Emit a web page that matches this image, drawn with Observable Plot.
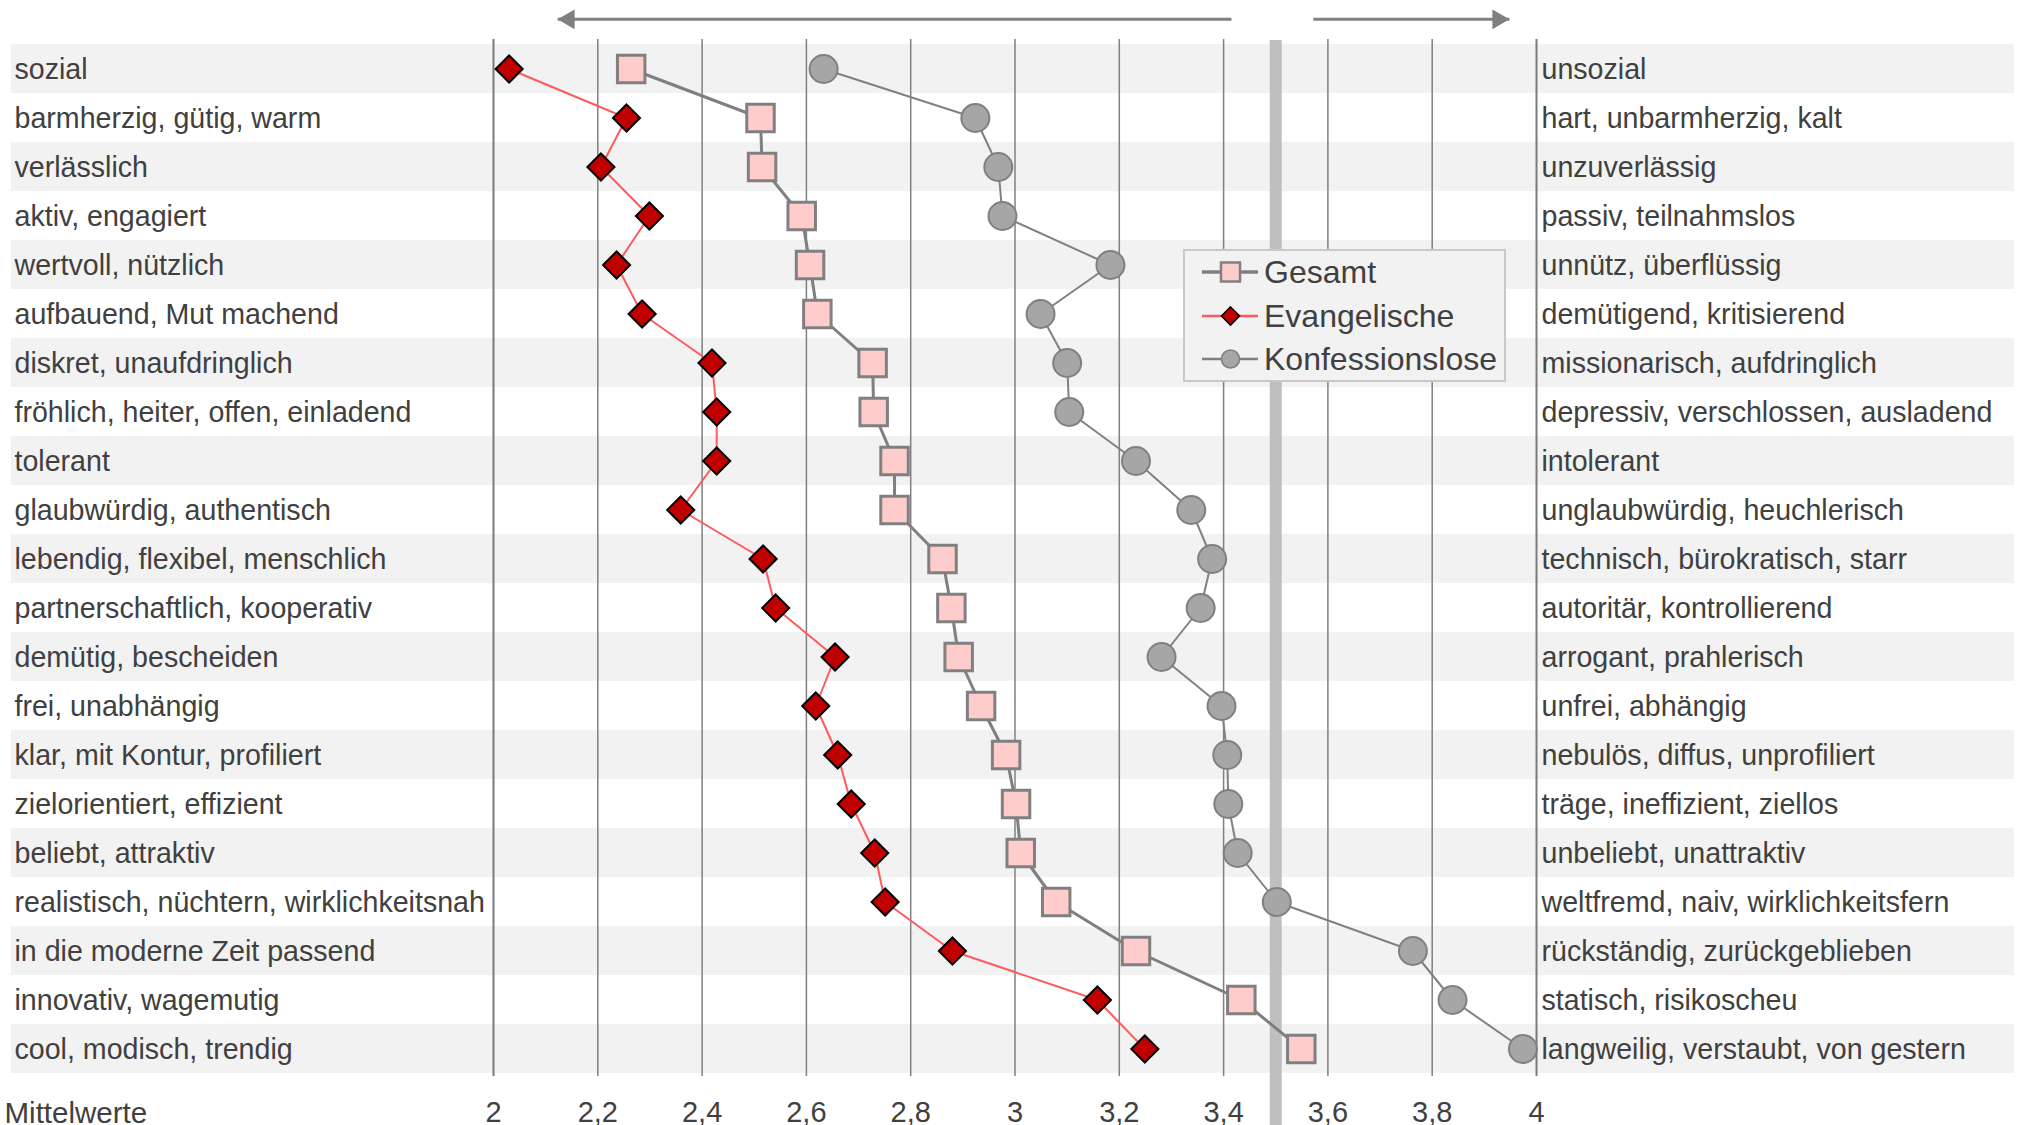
<!DOCTYPE html>
<html>
<head>
<meta charset="utf-8">
<script src="https://cdn.jsdelivr.net/npm/d3@7"></script>
<script src="https://cdn.jsdelivr.net/npm/@observablehq/plot@0.6"></script>
<style>
  html, body { margin: 0; padding: 0; background: #ffffff; overflow: hidden; }
  #wrap { position: relative; width: 2018px; height: 1125px; font-family: "Liberation Sans", Arial, sans-serif; }
  #wrap svg.plot-root { display: block; }
  #legend { position: absolute; box-sizing: border-box; background: #f2f2f2; border: 2px solid #c8c8c8; }
  #legend .item { position: absolute; height: 34px; display: flex; align-items: center; }
  #legend .item span { font-size: 32px; color: #404040; margin-left: 4px; line-height: 34px; white-space: nowrap; }
</style>
</head>
<body>
<div id="wrap"></div>
<script>
// ---------- data ----------
const leftLabels = [
  "sozial", "barmherzig, gütig, warm", "verlässlich", "aktiv, engagiert",
  "wertvoll, nützlich", "aufbauend, Mut machend", "diskret, unaufdringlich",
  "fröhlich, heiter, offen, einladend", "tolerant", "glaubwürdig, authentisch",
  "lebendig, flexibel, menschlich", "partnerschaftlich, kooperativ",
  "demütig, bescheiden", "frei, unabhängig", "klar, mit Kontur, profiliert",
  "zielorientiert, effizient", "beliebt, attraktiv",
  "realistisch, nüchtern, wirklichkeitsnah", "in die moderne Zeit passend",
  "innovativ, wagemutig", "cool, modisch, trendig"
];
const rightLabels = [
  "unsozial", "hart, unbarmherzig, kalt", "unzuverlässig", "passiv, teilnahmslos",
  "unnütz, überflüssig", "demütigend, kritisierend", "missionarisch, aufdringlich",
  "depressiv, verschlossen, ausladend", "intolerant", "unglaubwürdig, heuchlerisch",
  "technisch, bürokratisch, starr", "autoritär, kontrollierend",
  "arrogant, prahlerisch", "unfrei, abhängig", "nebulös, diffus, unprofiliert",
  "träge, ineffizient, ziellos", "unbeliebt, unattraktiv",
  "weltfremd, naiv, wirklichkeitsfern", "rückständig, zurückgeblieben",
  "statisch, risikoscheu", "langweilig, verstaubt, von gestern"
];
const gesamt = [2.264, 2.512, 2.515, 2.591, 2.607, 2.621, 2.727, 2.729, 2.769, 2.769, 2.861,
                2.878, 2.892, 2.935, 2.983, 3.002, 3.011, 3.079, 3.232, 3.434, 3.549];
const evangelische = [2.030, 2.255, 2.206, 2.299, 2.236, 2.285, 2.419, 2.428, 2.428, 2.359, 2.517,
                      2.541, 2.655, 2.618, 2.660, 2.686, 2.731, 2.751, 2.880, 3.158, 3.249];
const konfessionslose = [2.633, 2.924, 2.968, 2.976, 3.183, 3.049, 3.100, 3.104, 3.232, 3.338, 3.378,
                         3.356, 3.281, 3.396, 3.407, 3.409, 3.427, 3.502, 3.763, 3.839, 3.974];
const tickValues = [2, 2.2, 2.4, 2.6, 2.8, 3, 3.2, 3.4, 3.6, 3.8, 4];
const scaleMid = 3.5;
const axisTitle = "Mittelwerte";
const seriesNames = ["Gesamt", "Evangelische", "Konfessionslose"];
const poleArrows = [{from: 3.415, to: 2.123}, {from: 3.572, to: 3.948}];

// ---------- layout / style ----------
const W = 2018, H = 1125;
const mL = 493, mR = 482, mT = 40, mB = 49;
const textColor = "#404040";
const fontFamily = '"Liberation Sans", Arial, sans-serif';
const xMin = tickValues[0], xMax = tickValues[tickValues.length - 1];
const rowH = (H - mT - mB) / leftLabels.length;
const arrowDy = -(rowH / 2 + (mT - 15));
const fmt = d => String(d).replace(".", ",");

const rows = leftLabels.map((l, i) => ({
  left: l, right: rightLabels[i],
  gesamt: gesamt[i], evangelisch: evangelische[i], konf: konfessionslose[i],
  stripe: i % 2 === 0
}));

const styles = {
  gesamt: {line: "#7f7f7f", lineW: 3, fill: "#ffcccc", stroke: "#808080"},
  evang: {line: "#ff5b5b", lineW: 2, fill: "#c00000", stroke: "#000000"},
  konf: {line: "#808080", lineW: 2, fill: "#a6a6a6", stroke: "#808080"}
};

const chart = Plot.plot({
  width: W, height: H,
  marginLeft: mL, marginRight: mR, marginTop: mT, marginBottom: mB,
  style: {fontFamily, color: textColor, background: "transparent", overflow: "visible"},
  x: {domain: [xMin, xMax], axis: null},
  y: {type: "band", domain: leftLabels, padding: 0, axis: null},
  marks: [
    // alternating row bands
    Plot.barX(rows.filter(d => d.stripe), {
      x1: () => xMin, x2: () => xMax, y: "left", fill: "#f2f2f2",
      insetLeft: -(mL - 11), insetRight: -(mR - 4)
    }),
    // grid lines
    Plot.ruleX(tickValues.filter(t => t !== xMin && t !== xMax), {x: d => d, stroke: "#808080", strokeWidth: 1.5, insetTop: -1}),
    Plot.ruleX([xMin, xMax], {x: d => d, stroke: "#7a7a7a", strokeWidth: 2, insetTop: -1}),
    // scale midpoint
    Plot.ruleX([scaleMid], {x: d => d, stroke: "#bfbfbf", strokeWidth: 12, insetTop: 0, insetBottom: -mB}),
    // series lines
    Plot.line(rows, {x: "gesamt", y: "left", stroke: styles.gesamt.line, strokeWidth: styles.gesamt.lineW}),
    Plot.line(rows, {x: "konf", y: "left", stroke: styles.konf.line, strokeWidth: styles.konf.lineW}),
    Plot.line(rows, {x: "evangelisch", y: "left", stroke: styles.evang.line, strokeWidth: styles.evang.lineW}),
    // markers
    Plot.dot(rows, {x: "konf", y: "left", symbol: "circle", r: 14, fill: styles.konf.fill, stroke: styles.konf.stroke, strokeWidth: 2}),
    Plot.dot(rows, {x: "gesamt", y: "left", symbol: "square", r: 15.5, fill: styles.gesamt.fill, stroke: styles.gesamt.stroke, strokeWidth: 3}),
    Plot.dot(rows, {x: "evangelisch", y: "left", symbol: "diamond2", r: 12.2, fill: styles.evang.fill, stroke: styles.evang.stroke, strokeWidth: 2}),
    // row labels
    Plot.text(rows, {y: "left", text: "left", frameAnchor: "left", textAnchor: "start", dx: -(mL - 14), dy: 1, fontSize: 28.6, fill: textColor}),
    Plot.text(rows, {y: "left", text: "right", frameAnchor: "right", textAnchor: "start", dx: 5, dy: 1, fontSize: 28.6, fill: textColor}),
    // tick labels
    Plot.text(tickValues, {x: d => d, text: d => fmt(d), frameAnchor: "bottom", dy: 45, fontSize: 29, fill: textColor}),
    Plot.text([axisTitle], {text: d => d, frameAnchor: "bottom-left", textAnchor: "start", dx: -(mL - 4), dy: 46, fontSize: 29.5, fill: textColor}),
    // pole arrows
    Plot.link(poleArrows, {x1: "from", x2: "to", y1: () => leftLabels[0], y2: () => leftLabels[0], dy: arrowDy, stroke: "#808080", strokeWidth: 3}),
    Plot.dot(poleArrows.filter(d => d.to < d.from), {x: "to", y: () => leftLabels[0], symbol: "triangle", rotate: -90, r: 7.3, fill: "#808080", stroke: "none", dx: 11.3, dy: arrowDy}),
    Plot.dot(poleArrows.filter(d => d.to > d.from), {x: "to", y: () => leftLabels[0], symbol: "triangle", rotate: 90, r: 7.3, fill: "#808080", stroke: "none", dx: -11.3, dy: arrowDy})
  ]
});
chart.classList.add("plot-root");
const wrap = document.getElementById("wrap");
wrap.appendChild(chart);

// ---------- legend (overlay) ----------
const legend = document.createElement("div");
legend.id = "legend";
Object.assign(legend.style, {left: "1183px", top: "249px", width: "323px", height: "133px"});
const legendItems = [
  {name: seriesNames[0], s: styles.gesamt, sym: "square"},
  {name: seriesNames[1], s: styles.evang, sym: "diamond"},
  {name: seriesNames[2], s: styles.konf, sym: "circle"}
];
const centers = [20.7, 65.2, 108.3];
legendItems.forEach((it, i) => {
  const item = document.createElement("div");
  item.className = "item";
  item.style.left = "15px";
  item.style.top = (centers[i] - 17) + "px";
  let marker;
  if (it.sym === "square") marker = `<rect x="21" y="7.5" width="19" height="19" fill="${it.s.fill}" stroke="${it.s.stroke}" stroke-width="2.5"/>`;
  else if (it.sym === "diamond") marker = `<path d="M30.5,8 L39.5,17 L30.5,26 L21.5,17 Z" fill="${it.s.fill}" stroke="${it.s.stroke}" stroke-width="1.6"/>`;
  else marker = `<circle cx="30.5" cy="17" r="9" fill="${it.s.fill}" stroke="${it.s.stroke}" stroke-width="1.6"/>`;
  item.innerHTML = `<svg width="60" height="34" style="display:block"><line x1="2" y1="17" x2="58" y2="17" stroke="${it.s.line}" stroke-width="${it.s.lineW + 0.5}"/>${marker}</svg><span>${it.name}</span>`;
  legend.appendChild(item);
});
wrap.appendChild(legend);
</script>
</body>
</html>
